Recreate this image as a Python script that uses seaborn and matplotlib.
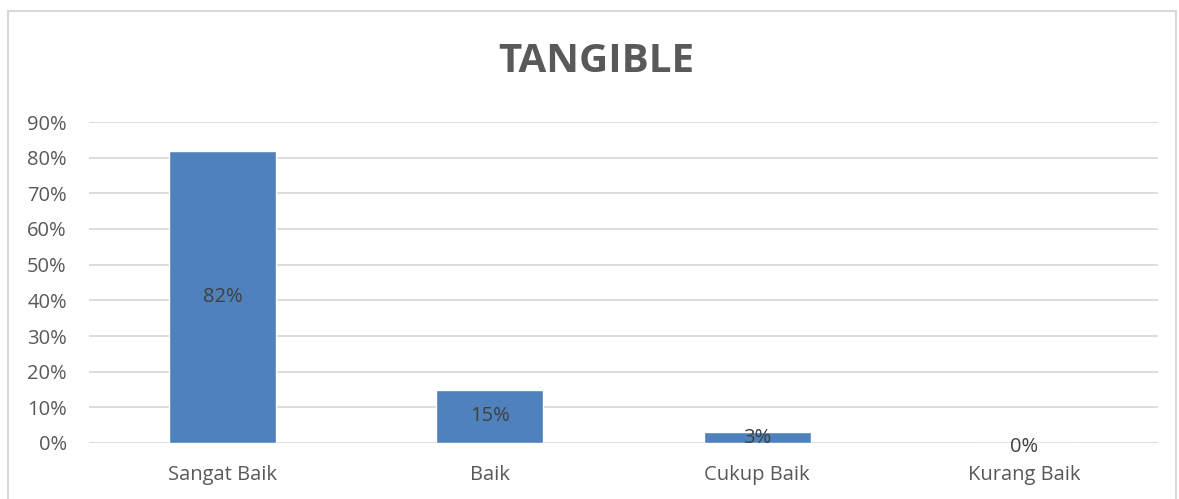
import matplotlib
matplotlib.use("Agg")
import matplotlib.pyplot as plt
import seaborn as sns
import pandas as pd
from matplotlib.patches import Rectangle

categories = ["Sangat Baik", "Baik", "Cukup Baik", "Kurang Baik"]
values = [82, 15, 3, 0]
labels = ["82%", "15%", "3%", "0%"]
yticks = [0, 10, 20, 30, 40, 50, 60, 70, 80, 90]
title = "TANGIBLE"

sns.set_style("white")
plt.rcParams['font.family'] = ['Open Sans', 'DejaVu Sans']

W, H = 1179, 499
fig = plt.figure(figsize=(W / 100, H / 100), dpi=100)
ax = fig.add_axes([89 / W, 56 / H, (1158 - 89) / W, (443 - 122) / H])

df = pd.DataFrame({"cat": categories, "val": values})
sns.barplot(data=df, x="cat", y="val", color="#4F81BD", saturation=1,
            width=0.4, ax=ax, zorder=3)

ax.set_xlim(-0.5, 3.5)
ax.set_ylim(0, 90)
ax.set_yticks(yticks)
ax.set_yticklabels([f"{t}%" for t in yticks])
ax.set_xlabel("")
ax.set_ylabel("")
ax.grid(axis="y", color="#D9D9D9", linewidth=1.3, zorder=0)
ax.set_axisbelow(True)
for s in ax.spines.values():
    s.set_visible(False)
ax.tick_params(axis="both", length=0, colors="#595959", labelsize=14.5)
ax.tick_params(axis="y", pad=16)
ax.tick_params(axis="x", pad=16)

for i, (v, lab) in enumerate(zip(values, labels)):
    y = v / 2 if v > 0 else -1
    ax.text(i, y, lab, ha="center", va="center", fontsize=14.5,
            color="#404040", zorder=5)

fig.text(596 / W, 1 - 61 / H, title, ha="center", va="center",
         fontsize=29, fontweight="bold", color="#595959")

fig.patches.append(Rectangle((8 / W, -0.05), (1176 - 8) / W, (488 / H) + 0.05,
                             transform=fig.transFigure, fill=False,
                             edgecolor="#D9D9D9", linewidth=1.5))

fig.savefig("out.png", dpi=100)
